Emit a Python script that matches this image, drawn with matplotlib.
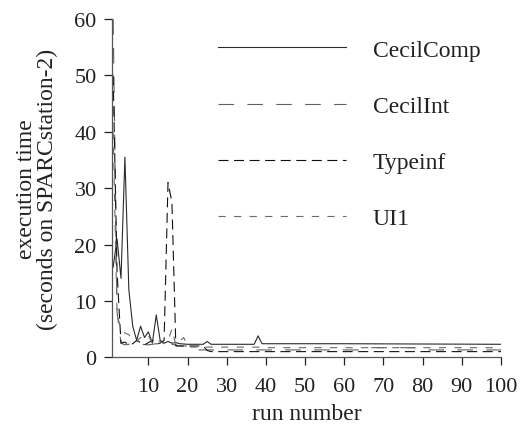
import numpy as np
import matplotlib
matplotlib.use("Agg")
import matplotlib.pyplot as plt

plt.rcParams['font.family'] = ['Liberation Serif', 'DejaVu Serif']

# run numbers / execution times (vertices)
comp_runs = [1, 2, 3, 4, 5, 6, 7, 8, 9, 10, 11, 12, 13, 14, 15, 16, 17, 18, 20, 24, 25, 26, 37, 38, 39, 60, 100]
comp_time = [16, 21, 14, 35.5, 12, 5.5, 3, 5.5, 3.5, 4.5, 2.5, 7.5, 3, 2.5, 2.8, 2.5, 2.6, 2.4, 2.3, 2.3, 2.8, 2.3, 2.3, 3.8, 2.4, 2.4, 2.3]

int_runs = [1, 2, 3, 4, 6, 8, 10, 12, 14, 16, 18, 20, 21, 40, 66, 67, 78, 79, 100]
int_time = [60, 8, 2.5, 2.2, 2.4, 2.3, 2.2, 2.4, 2.2, 2.3, 2.0, 2.0, 1.3, 1.3, 1.3, 1.7, 1.7, 1.3, 1.3]

type_runs = [1, 2, 3, 4, 5, 6, 7, 8, 9, 10, 11, 12, 13, 14, 15, 16, 17, 18, 19, 24, 25, 26, 100]
type_time = [50, 15, 2.5, 2.7, 2.2, 2.4, 3.0, 2.6, 2.2, 2.6, 3.0, 2.4, 2.5, 3.0, 31, 27.5, 2.0, 2.0, 2.0, 2.0, 1.2, 1.0, 1.0]

ui_runs = [1, 2, 3, 4, 5, 6, 7, 8, 9, 10, 11, 12, 13, 14, 15, 16, 17, 19, 20, 21, 38, 39, 100]
ui_time = [40, 7.5, 5, 4.3, 4, 3, 2.8, 3.5, 3.3, 3.8, 2.6, 3.2, 2.8, 2.4, 3.0, 5.0, 2.2, 3.5, 2.0, 1.8, 1.8, 1.7, 1.7]

fig = plt.figure(figsize=(5.25, 4.27), dpi=100)
ax = fig.add_axes([0.2133, 0.161, 0.741, 0.792])

ax.plot(comp_runs, comp_time, color='#2a2a2a', lw=0.8, label='CecilComp')
ax.plot(int_runs, int_time, color='#606060', lw=0.8, dashes=(14, 12), label='CecilInt')
ax.plot(type_runs, type_time, color='#111111', lw=0.8, dashes=(9, 5), label='Typeinf')
ax.plot(ui_runs, ui_time, color='#6a6a6a', lw=0.8, dashes=(6.5, 7.5), label='UI1')

ax.set_xlim(0.7, 100)
ax.set_ylim(0, 60)
ax.set_xticks(np.arange(10, 101, 10))
ax.set_yticks(np.arange(0, 61, 10))
ax.tick_params(direction='out', length=6, width=0.9, labelsize=16, colors='#222222')
ax.tick_params(axis='x', pad=8)
ax.tick_params(axis='y', pad=5)
for s in ['top', 'right']:
    ax.spines[s].set_visible(False)
for s in ['left', 'bottom']:
    ax.spines[s].set_color('#555555')
    ax.spines[s].set_linewidth(0.9)

ax.set_xlabel('run number', fontsize=17, color='#222222', labelpad=5)
ax.set_ylabel('execution time\n(seconds on SPARCstation-2)', fontsize=17,
              color='#222222', labelpad=12, linespacing=1.0)

ax.legend(loc='upper left', bbox_to_anchor=(218 / 525, 1 - 40 / 427),
          bbox_transform=fig.transFigure, frameon=False, fontsize=17,
          handlelength=5.4, handletextpad=1.15, labelspacing=1.47,
          borderpad=0, borderaxespad=0, labelcolor='#222222')

fig.savefig('out.png', dpi=100)
